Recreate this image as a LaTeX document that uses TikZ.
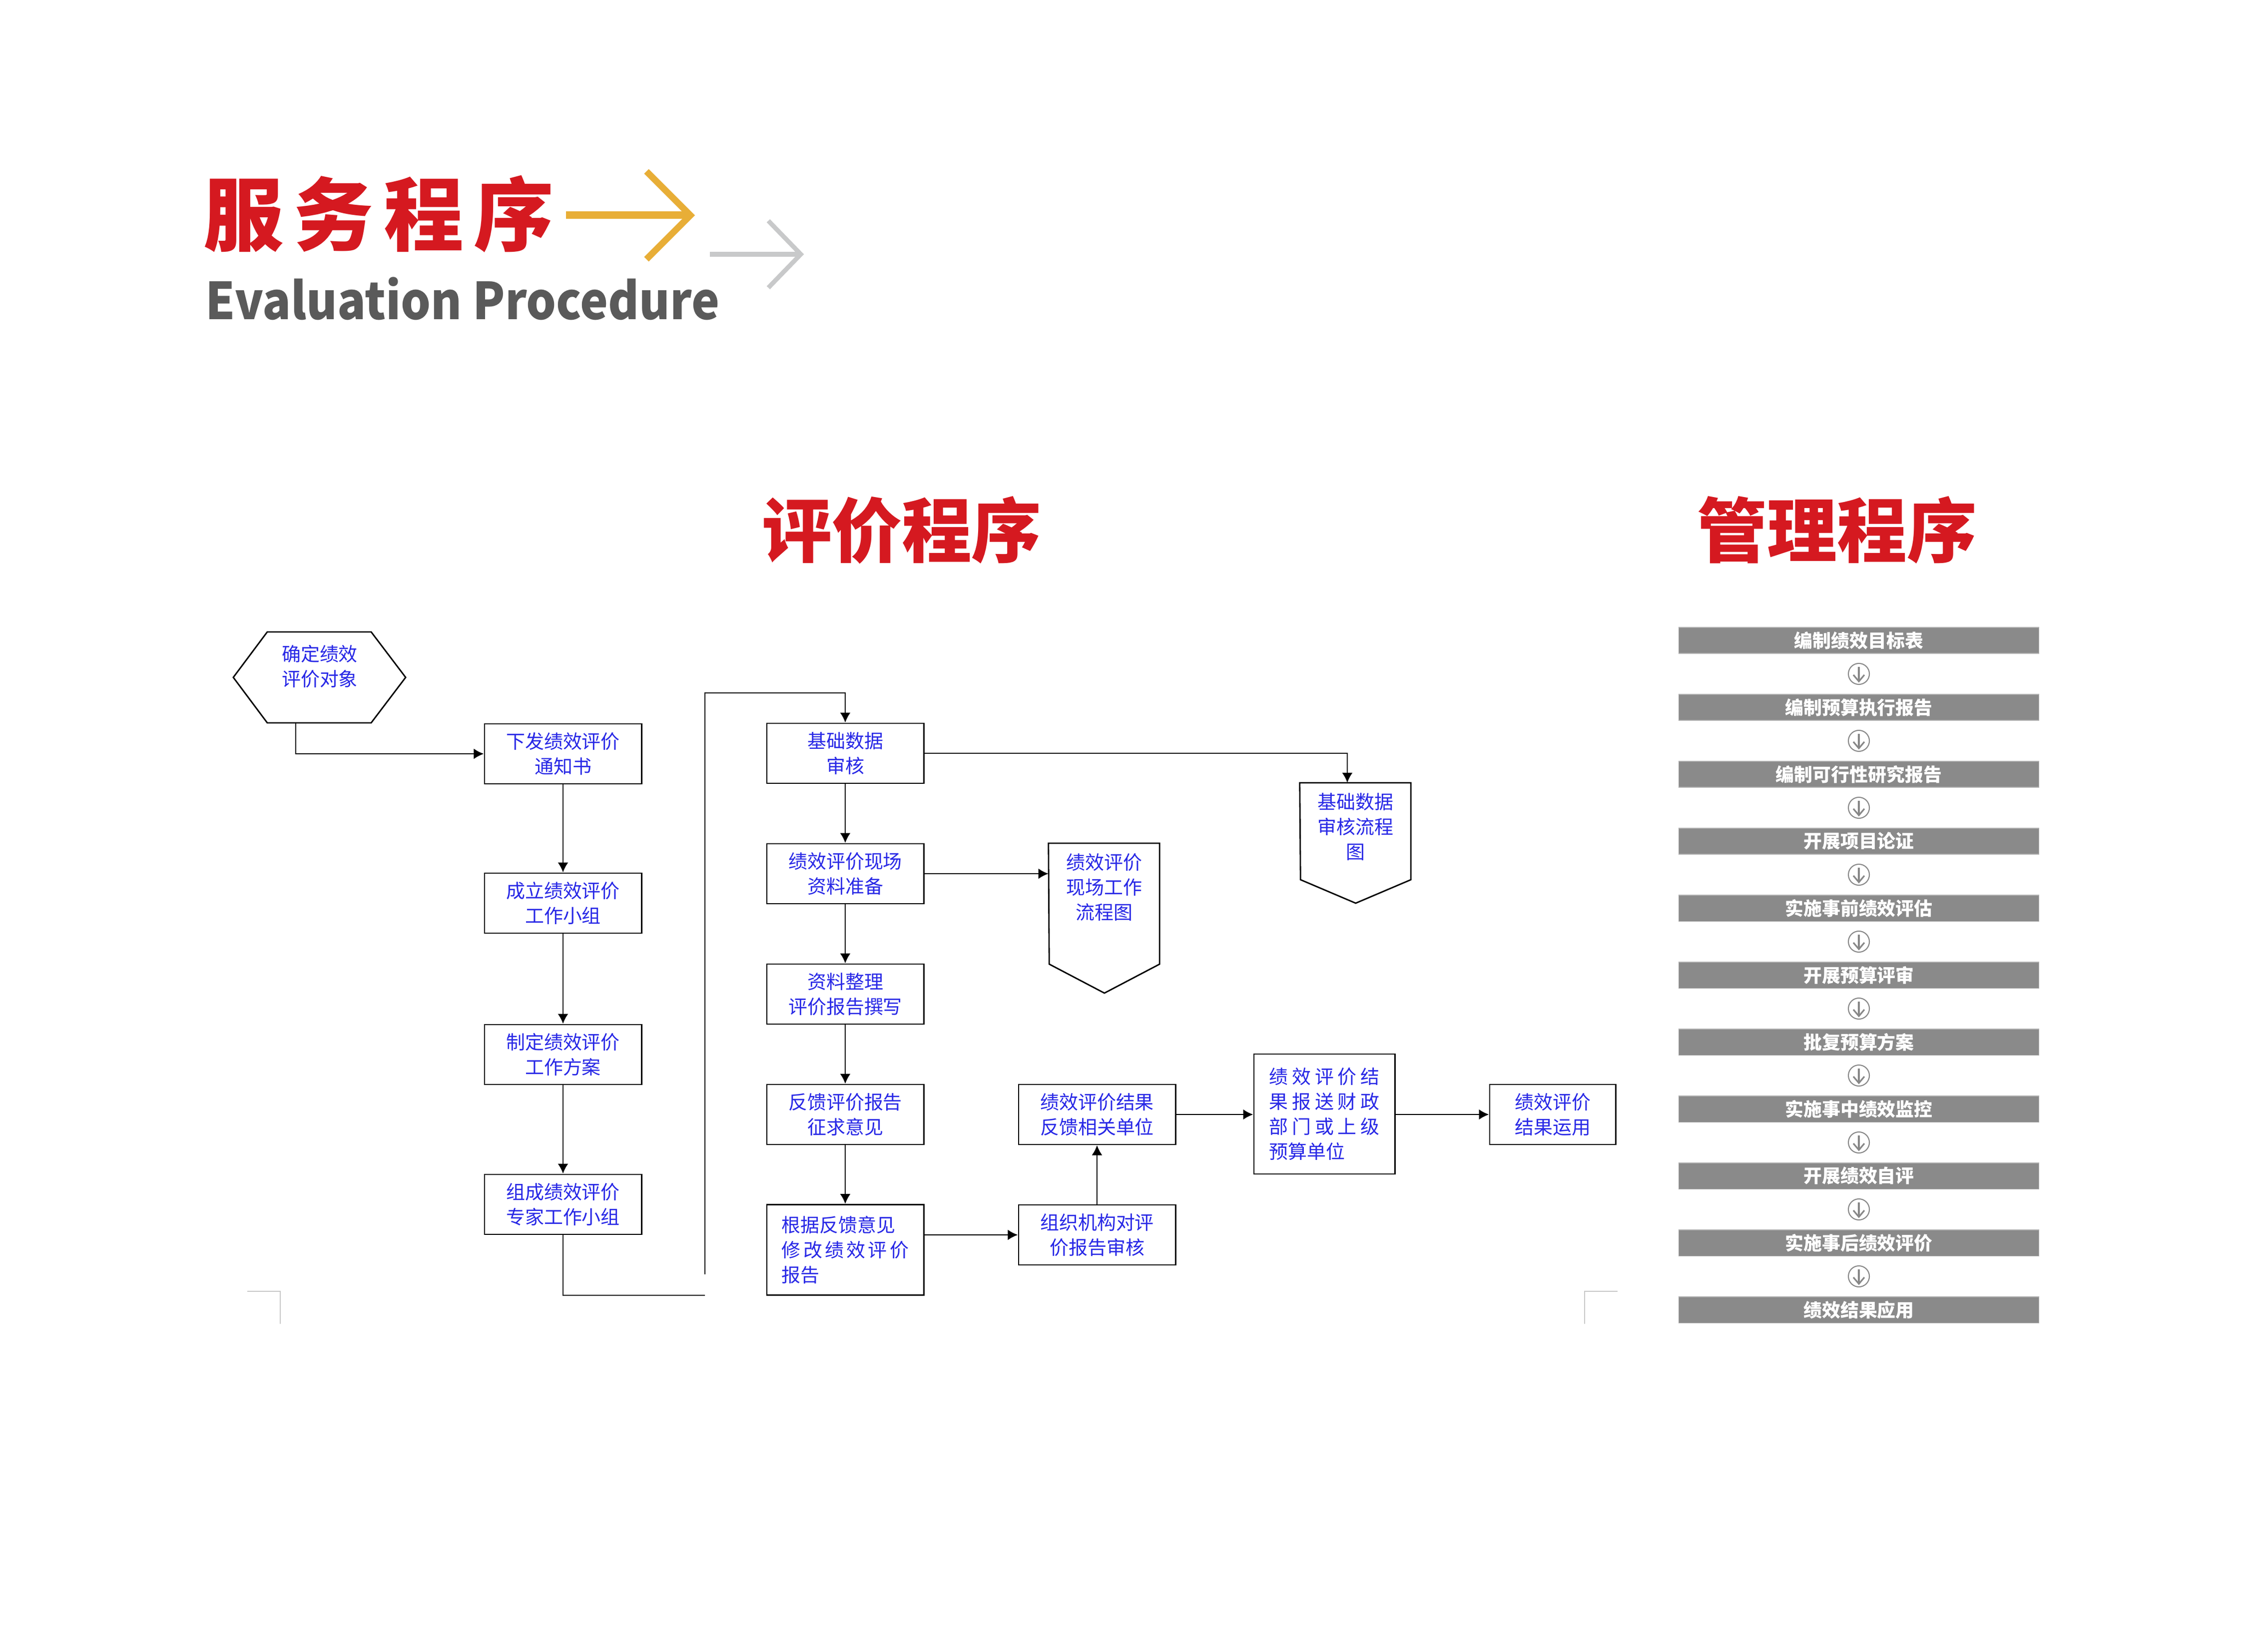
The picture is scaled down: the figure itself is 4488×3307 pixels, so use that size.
\documentclass[tikz,border=0pt]{standalone}
\usepackage{fontspec}
\newfontfamily\cjk{Noto Sans CJK SC}
\newfontfamily\cjkwide{Noto Sans CJK SC}[LetterSpace=12.5]
\newfontfamily\cjknarrow{Noto Sans CJK SC}[FakeStretch=0.925]
\usetikzlibrary{arrows.meta}

\definecolor{titlered}{RGB}{213,25,32}
\definecolor{arroworange}{RGB}{232,174,55}
\definecolor{arrowgray}{RGB}{200,201,202}
\definecolor{subgray}{RGB}{90,90,90}
\definecolor{flowblue}{RGB}{40,40,230}
\definecolor{barfill}{RGB}{138,138,138}
\definecolor{ringgray}{RGB}{135,135,135}
\definecolor{markgray}{RGB}{200,200,200}

\tikzset{
  flowline/.style={line width=0.8pt, black},
  flowtext/.style={font=\cjk\fontsize{10.8pt}{14.2pt}\selectfont, text=flowblue, align=center, inner sep=0pt},
  flowbox/.style={flowtext, draw, line width=0.8pt, minimum width=3.14cm, minimum height=1.2cm},
  barbox/.style={fill=barfill, draw=black!30, line width=0.3pt, minimum width=7.2cm, minimum height=0.52cm, inner sep=0pt, text=white, font=\cjk\bfseries\fontsize{10.5pt}{12pt}\selectfont},
  ring/.style={draw=ringgray, line width=0.6pt},
  cropmark/.style={draw=markgray, line width=0.5pt},
  headline/.style={font=\cjk\bfseries\fontsize{39.8pt}{42pt}\selectfont, text=titlered, inner sep=0pt}
}

\begin{document}
\begin{tikzpicture}[x=0.01cm, y=-0.01cm, >={Latex[length=5.7pt,width=6pt]}]

\path[fill=white] (0,0) rectangle (4488,3307);

% Title
\node[font=\cjkwide\bfseries\fontsize{45.5pt}{50pt}\selectfont, text=titlered, inner sep=0pt] (title) at (758,428) {服务程序};
\node[anchor=base west, inner sep=0pt, font=\cjknarrow\bfseries\fontsize{29pt}{30pt}\selectfont, text=subgray] (subtitle) at (411,640) {Evaluation Procedure};

% Arrows next to title
\draw[arroworange, line width=0.15cm] (1133,431) -- (1378,431);
\draw[arroworange, line width=0.13cm] (1294,343) -- (1382,431) -- (1294,519);
\draw[arrowgray, line width=0.1cm] (1421,509) -- (1598,509);
\draw[arrowgray, line width=0.09cm] (1538,442) -- (1603,509) -- (1538,576);

% Headings
\node[headline] (evalhead) at (1805,1061) {评价程序};
\node[headline] (mgmthead) at (3677,1061) {管理程序};

% Start hexagon
\node[flowtext] (start) at (640,1334) {确定绩效\\评价对象};
\draw[flowline] ([shift={(-173,22)}]start.center) -- ([shift={(-105,-69)}]start.center) -- ([shift={(103,-69)}]start.center) -- ([shift={(172,22)}]start.center) -- ([shift={(103,113)}]start.center) -- ([shift={(-105,113)}]start.center) -- cycle;
\coordinate (startfoot) at ([shift={(-48,113)}]start.center);

% First column
\node[flowbox] (notice) at (1127,1509) {下发绩效评价\\通知书};
\node[flowbox] (team) at (1127,1808) {成立绩效评价\\工作小组};
\node[flowbox] (plan) at (1127,2111) {制定绩效评价\\工作方案};
\node[flowbox] (experts) at (1127,2411) {组成绩效评价\\专家工作小组};

% Second column
\node[flowbox] (basecheck) at (1692,1508) {基础数据\\审核};
\node[flowbox] (fieldprep) at (1692,1749) {绩效评价现场\\资料准备};
\node[flowbox] (draft) at (1692,1990) {资料整理\\评价报告撰写};
\node[flowbox] (feedback) at (1692,2231) {反馈评价报告\\征求意见};
\node[flowbox, minimum height=1.81cm, align=left] (revise) at (1692,2502) {根据反馈意见\\\hbox to 2.54cm{修\hfil 改\hfil 绩\hfil 效\hfil 评\hfil 价}\\报告};

% Third column
\node[flowbox] (review) at (2196,2472) {组织机构对评\\价报告审核};
\node[flowbox] (resultfb) at (2196,2231) {绩效评价结果\\反馈相关单位};
\node[flowbox, minimum width=2.82cm, minimum height=2.4cm, align=left] (report) at (2651,2230) {\hbox to 2.2cm{绩\hfil 效\hfil 评\hfil 价\hfil 结}\\\hbox to 2.2cm{果\hfil 报\hfil 送\hfil 财\hfil 政}\\\hbox to 2.2cm{部\hfil 门\hfil 或\hfil 上\hfil 级}\\预算单位};
\node[flowbox, minimum width=2.52cm] (apply) at (3108,2231) {绩效评价\\结果运用};

% Flow chart pages
\node[flowtext, anchor=north, minimum width=2.21cm, inner ysep=0.2cm] (fieldflow) at (2210,1688) {绩效评价\\现场工作\\流程图};
\draw[flowline] (fieldflow.north west) -- (fieldflow.north east) -- ++(0,242) -- ++(-110.5,58) -- ++(-110.5,-58) -- cycle;
\node[flowtext, anchor=north, minimum width=2.21cm, inner ysep=0.2cm] (baseflow) at (2713,1567) {基础数据\\审核流程\\图};
\draw[flowline] (baseflow.north west) -- (baseflow.north east) -- ++(0,194) -- ++(-110.5,47) -- ++(-110.5,-47) -- cycle;

% Connectors
\draw[flowline, ->] (startfoot) |- (notice.west);
\draw[flowline, ->] (notice) -- (team);
\draw[flowline, ->] (team) -- (plan);
\draw[flowline, ->] (plan) -- (experts);
\coordinate (loopfoot) at (1411,2593);
\coordinate (loopbase) at (1411,2551);
\coordinate (looptop) at (1411,1387);
\draw[flowline] (experts.south) |- (loopfoot);
\draw[flowline, ->] (loopbase) -- (looptop) -| (basecheck.north);
\draw[flowline, ->] (basecheck.east) -| ([xshift=-0.16cm]baseflow.north);
\draw[flowline, ->] (basecheck) -- (fieldprep);
\draw[flowline, ->] (fieldprep) -- (draft);
\draw[flowline, ->] (draft) -- (feedback);
\draw[flowline, ->] (feedback) -- (revise);
\draw[flowline, ->] (fieldprep.east) -- (fieldprep.east -| fieldflow.west);
\draw[flowline, ->] (revise.east |- review.west) -- (review.west);
\draw[flowline, ->] (review) -- (resultfb);
\draw[flowline, ->] (resultfb.east) -- (resultfb.east -| report.west);
\draw[flowline, ->] (report.east |- apply.west) -- (apply.west);

% Crop marks
\draw[cropmark] (495,2585) -- (561,2585) -- (561,2650);
\draw[cropmark] (3238,2585) -- (3172,2585) -- (3172,2650);

% Management steps
\foreach \t [count=\i from 0] in {编制绩效目标表,编制预算执行报告,编制可行性研究报告,开展项目论证,实施事前绩效评估,开展预算评审,批复预算方案,实施事中绩效监控,开展绩效自评,实施事后绩效评价,绩效结果应用}
  \node[barbox] (mstep\i) at (3721,{1282+134*\i}) {\t};

\foreach \i in {0,...,9} {
  \begin{scope}[shift={(3721,{1349+134*\i})}]
  \draw[ring] (0,0) circle (0.21cm);
  \draw[ring, line width=0.9pt] (0,-14) -- (0,15);
  \draw[ring, line width=0.9pt] (-11,2) -- (0,15) -- (11,2);
  \end{scope}
}

\end{tikzpicture}
\end{document}
